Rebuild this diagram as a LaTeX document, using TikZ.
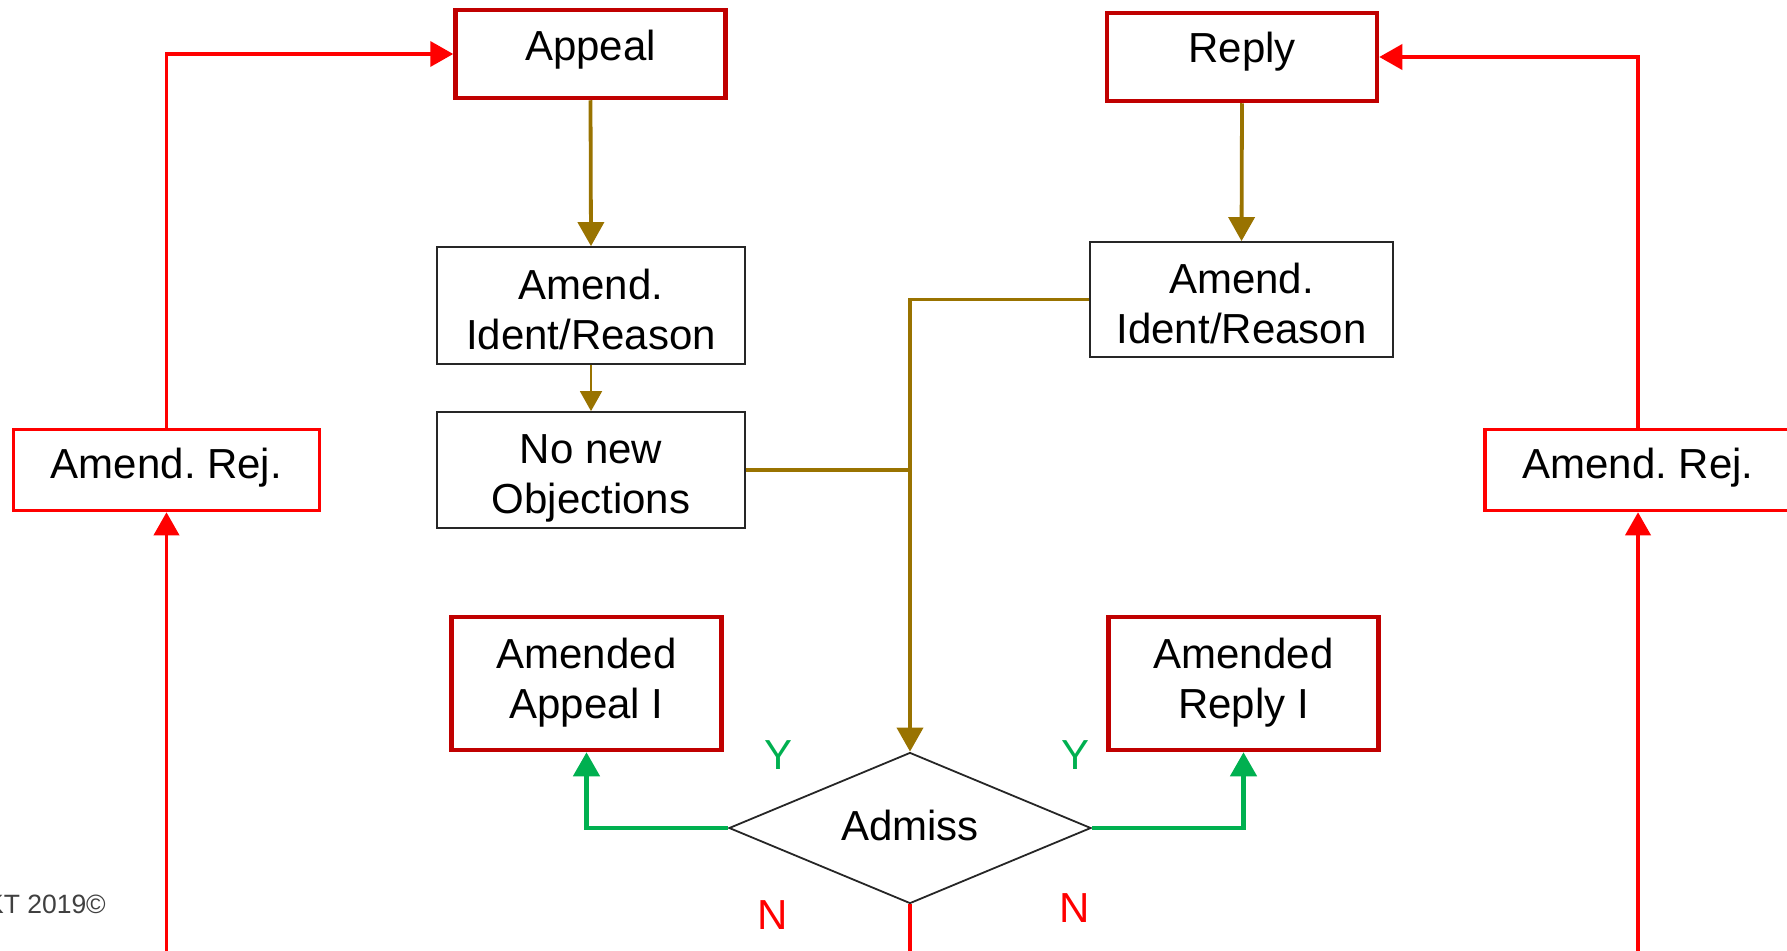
\documentclass[tikz,border=0pt]{standalone}
\usepackage{fontspec}
\setmainfont{Liberation Sans}
\usetikzlibrary{arrows.meta,shapes.geometric}
\frenchspacing

\definecolor{dkred}{HTML}{C00000}
\definecolor{brtred}{HTML}{FF0000}
\definecolor{olivebrown}{HTML}{997300}
\definecolor{flowgreen}{HTML}{00B050}
\definecolor{notegray}{HTML}{404040}

\tikzset{
  base/.style={font=\fontsize{42}{50}\selectfont, align=center, inner sep=0pt},
  mainbox/.style={base, draw=dkred, line width=4.5pt, minimum width=270pt, minimum height=88pt},
  rejbox/.style={base, draw=brtred, line width=3.5pt, minimum width=306pt, minimum height=81pt,
                 text height=30pt, text depth=14pt},
  stepbox/.style={base, draw=black!85, line width=1.8pt, minimum width=308pt, minimum height=117pt,
                  text height=87pt, text depth=0pt},
  decision/.style={base, diamond, draw=black!85, line width=1.8pt, aspect=2.4,
                   minimum width=362pt, minimum height=151pt, text height=31pt, text depth=6pt},
  ylabel/.style={base, text=flowgreen},
  nlabel/.style={base, text=brtred},
  brownarrow/.style={draw=olivebrown, line width=3.8pt, -{Triangle[width=26pt,length=24pt]}},
  brownthin/.style={draw=olivebrown, line width=1.8pt, -{Triangle[width=22pt,length=20pt]}},
  brownline/.style={draw=olivebrown, line width=3.8pt},
  greenarrow/.style={draw=flowgreen, line width=4.5pt, -{Triangle[width=26pt,length=24pt]}},
  redarrow/.style={draw=brtred, line width=3.8pt, -{Triangle[width=25pt,length=23pt]}},
  redline/.style={draw=brtred, line width=3.8pt},
}

\begin{document}
\begin{tikzpicture}[x=1pt, y=-1pt]
  \useasboundingbox (0,0) rectangle (1787,950);

  % boxes
  \node[mainbox, text height=31pt, text depth=19pt] (appeal) at (590.5,54) {Appeal};
  \node[mainbox, text height=31pt, text depth=19pt] (reply) at (1242,57) {Reply};
  \node[stepbox] (identL) at (591,305.5) {Amend.\\Ident/Reason};
  \node[stepbox, minimum width=303pt, minimum height=115pt] (identR) at (1241.5,299.5) {Amend.\\Ident/Reason};
  \node[stepbox, minimum height=116pt, text height=86pt] (nonew) at (591,470) {No new\\Objections};
  \node[rejbox] (rejL) at (166.5,470) {Amend. Rej.};
  \node[rejbox] (rejR) at (1638,470) {Amend. Rej.};
  \node[mainbox, minimum height=133pt, text height=69pt, text depth=0pt] (amA) at (586.5,683.5) {Amended\\Appeal I};
  \node[mainbox, minimum height=133pt, text height=69pt, text depth=0pt] (amR) at (1243.5,683.5) {Amended\\Reply I};
  \node[decision] (admiss) at (910,828) {Admiss};

  % branch labels
  \node[ylabel] (yL) at (778,755) {Y};
  \node[ylabel] (yR) at (1075,755) {Y};
  \node[nlabel] (nL) at (773,915) {N};
  \node[nlabel] (nR) at (1075,908) {N};

  % copyright note
  \node[anchor=base east, inner sep=0pt, font=\fontsize{26.5}{30}\selectfont, text=notegray]
    (note) at (106,913) {KT 2019©};

  % loose ends running off the bottom
  \coordinate (bl) at (166.5,965);
  \coordinate (br) at (1638,965);
  \coordinate (bm) at (910,965);

  % brown flow
  \draw[brownarrow] (appeal.south) -- (identL.north);
  \draw[brownthin] (identL.south) -- (nonew.north);
  \draw[brownarrow] (reply.south) -- (identR.north);
  \draw[brownarrow] (identR.west) -| (admiss.north);
  \draw[brownline] (nonew.east) -- (nonew.east -| admiss.north);

  % green (yes) branches
  \draw[greenarrow] (admiss.west) -| (amA.south);
  \draw[greenarrow] (admiss.east) -| (amR.south);

  % red (rejection) loops
  \draw[redarrow] (rejL.north) |- (appeal.west);
  \draw[redarrow] (rejR.north) |- (reply.east);
  \draw[redarrow] (bl) -- (rejL.south);
  \draw[redarrow] (br) -- (rejR.south);
  \draw[redline] (admiss.south) -- (bm);
\end{tikzpicture}
\end{document}
